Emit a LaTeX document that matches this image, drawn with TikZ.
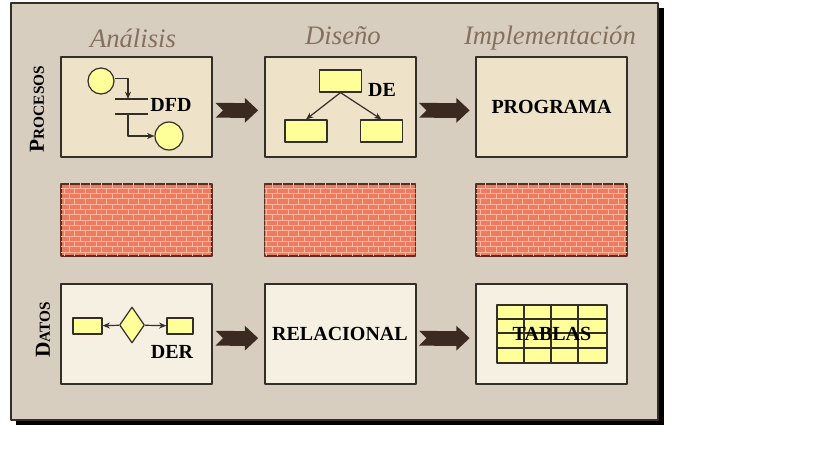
\documentclass[tikz,border=0pt]{standalone}
\usepackage{fontspec}
\setmainfont{Liberation Serif}
\usetikzlibrary{arrows.meta, shapes.geometric, patterns.meta}

\definecolor{panelbg}{HTML}{D8CEC0}
\definecolor{procfill}{HTML}{EEE2C8}
\definecolor{datafill}{HTML}{F6F0E3}
\definecolor{boxline}{HTML}{332E28}
\definecolor{brickfill}{HTML}{EE7A5F}
\definecolor{brickline}{HTML}{F8B7A0}
\definecolor{brickedge}{HTML}{5C2E22}
\definecolor{shapeyellow}{HTML}{FFFF99}
\definecolor{headbrown}{HTML}{84705C}
\definecolor{arrowbrown}{HTML}{3A2A20}

\tikzdeclarepattern{
  name=brickwall,
  type=uncolored,
  bottom left={(-0.5pt,-0.5pt)},
  top right={(8.5pt,8.5pt)},
  tile size={(8pt,8pt)},
  code={
    \draw[line width=0.6pt] (0pt,0pt) -- (8pt,0pt) (0pt,4pt) -- (8pt,4pt)
      (0pt,0pt) -- (0pt,4pt) (4pt,4pt) -- (4pt,8pt);
  }
}

\begin{document}
\begin{tikzpicture}[x=0.75pt, y=-0.75pt, >=Stealth, line join=round,
    box/.style={draw=boxline, line width=1.5pt, minimum width=113.25pt, minimum height=75pt,
      inner sep=0pt, font=\fontsize{15}{18}\selectfont\bfseries},
    procbox/.style={box, fill=procfill},
    databox/.style={box, fill=datafill},
    brickbox/.style={draw=brickedge, line width=1.2pt, fill=brickfill,
      minimum width=113.25pt, minimum height=54pt,
      postaction={pattern=brickwall, pattern color=brickline}},
    phase/.style={text=headbrown, font=\fontsize{20}{24}\selectfont\itshape, anchor=base},
    tag/.style={font=\fontsize{15}{18}\selectfont\bfseries, inner sep=1pt},
    yel/.style={draw=boxline, line width=0.9pt, fill=shapeyellow, inner sep=0pt},
    flow/.style={draw=boxline, line width=0.9pt, -{Stealth[length=5.5pt, width=4.5pt]}},
    bigarrow/.style={draw=arrowbrown, line width=11pt,
      {Triangle Cap[reversed]}-{Triangle[length=10pt, width=18pt]},
      shorten <=2pt, shorten >=4pt},
    side/.style={rotate=90, font=\bfseries, inner sep=0pt}]

    \useasboundingbox (0,0) rectangle (819,460);
    \fill[white] (0,0) rectangle (819,460);

    % ================= panel =================
    \fill[black] (16,8) rectangle (664,425);
    \draw[boxline, line width=1pt, fill=panelbg] (11,3) rectangle (658,420);

    \node[phase] (ha) at (133,48) {Análisis};
    \node[phase] (hd) at (343,45) {Diseño};
    \node[phase] (hi) at (550,45) {Implementación};

    \node[side] (lp) at (37,109) {\fontsize{16}{18}\selectfont P\fontsize{11.5}{13}\selectfont ROCESOS};
    \node[side] (ld) at (43,330) {\fontsize{16}{18}\selectfont D\fontsize{11.5}{13}\selectfont ATOS};

    % ================= boxes =================
    \node[procbox] (pa) at (136.5,107) {};
    \node[procbox] (pd) at (340,107) {};
    \node[procbox] (pi) at (551.5,107) {PROGRAMA};

    \node[brickbox] (ba) at (136.5,220) {};
    \node[brickbox] (bd) at (340,220) {};
    \node[brickbox] (bi) at (551.5,220) {};

    \node[databox] (da) at (136.5,333.5) {};
    \node[databox] (dm) at (340,333.5) {RELACIONAL};
    \node[databox] (dt) at (551.5,333.5) {};

    \draw[bigarrow] ([yshift=-2.5pt]pa.east) -- ([yshift=-2.5pt]pd.west);
    \draw[bigarrow] ([yshift=-2.5pt]pd.east) -- ([yshift=-2.5pt]pi.west);
    \draw[bigarrow] ([yshift=-3.5pt]da.east) -- ([yshift=-3.5pt]dm.west);
    \draw[bigarrow] ([yshift=-3.5pt]dm.east) -- ([yshift=-3.5pt]dt.west);

    % ================= DFD =================
    \node[circle, yel, minimum size=19.5pt] (c1) at (101,81) {};
    \node[circle, yel, minimum size=21pt] (c2) at (169,136) {};
    \draw[boxline, line width=1pt] (115,99) -- (148,99) (115,114) -- (148,114);
    \coordinate (stt) at (128,99);
    \coordinate (stb) at (128,114);
    \draw[flow] ([yshift=2pt]c1.east) -| (stt);
    \draw[flow] (stb) |- (c2);
    \node[tag] (dfd) at (171,105) {DFD};

    % ================= DE =================
    \node[yel, minimum width=31pt, minimum height=16.5pt] (et) at (340.5,81) {};
    \node[yel, minimum width=31.5pt, minimum height=16.5pt] (el) at (306,131) {};
    \node[yel, minimum width=32pt, minimum height=16.5pt] (er) at (381.5,131) {};
    \draw[flow] (et.south) -- (el.north);
    \draw[flow] (et.south) -- (er.north);
    \node[tag] (de) at (382,90) {DE};

    % ================= DER =================
    \node[yel, minimum width=21.75pt, minimum height=12pt] (dl) at (87.5,326) {};
    \node[diamond, yel, minimum width=18.75pt, minimum height=27pt] (dd) at (132,325) {};
    \node[yel, minimum width=19.5pt, minimum height=12pt] (dr) at (180,326) {};
    \draw[flow] (dd) -- (dl);
    \draw[flow] (dd) -- (dr);
    \node[tag] (der) at (172,352) {DER};

    % ================= TABLAS =================
    \node[yel, line width=1.5pt, minimum width=82.5pt, minimum height=43.5pt] (tab) at (552,334) {};
    \foreach \gx in {524,551,578}
      \draw[boxline, line width=1.5pt] (\gx,305) -- (\gx,363);
    \foreach \gy in {319,333,348}
      \draw[boxline, line width=1.5pt] (497,\gy) -- (607,\gy);
    \node[tag] (tb) at (tab) {TABLAS};

\end{tikzpicture}
\end{document}
